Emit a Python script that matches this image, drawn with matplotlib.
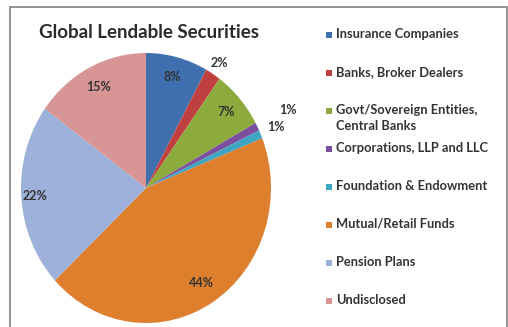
import numpy as np
import matplotlib.pyplot as plt
from matplotlib.patches import Rectangle

plt.rcParams['font.family'] = ['Lato', 'DejaVu Sans']

# data
categories = ["Insurance Companies", "Banks, Broker Dealers",
              "Govt/Sovereign Entities,\nCentral Banks", "Corporations, LLP and LLC",
              "Foundation & Endowment", "Mutual/Retail Funds", "Pension Plans", "Undisclosed"]
shares = [8, 2, 7, 1, 1, 44, 22, 15]
colors = ["#3F6FAF", "#C0403F", "#8DAA3C", "#7B4F9E", "#3FA5C0", "#DE7F2E", "#9DB1DA", "#D89595"]
# how far out each percent label sits (fraction of radius)
label_r = [0.85, 1.1, 0.85, 1.27, 1.13, 0.83, 0.89, 0.84]

W, H = 508, 327
fig = plt.figure(figsize=(W / 100, H / 100), dpi=100)

# grey frame around the chart
fig.patches.append(Rectangle((10 / W, -0.05), 497 / W, 1.05 - 7 / H, transform=fig.transFigure,
                             fill=False, edgecolor="#8a8a8a", linewidth=1.3))

# pie: centre (146,188) px, radii 125 x 135 px
cx, cy, rx, ry = 146, 188, 125, 135
ax = fig.add_axes([(cx - rx) / W, (H - cy - ry) / H, 2 * rx / W, 2 * ry / H])
wedges, _ = ax.pie(shares, colors=colors, startangle=90, counterclock=False,
                   wedgeprops=dict(linewidth=0))
ax.set_aspect('auto')
ax.set_xlim(-1, 1)
ax.set_ylim(-1, 1)

for w, v, r in zip(wedges, shares, label_r):
    mid = np.deg2rad((w.theta1 + w.theta2) / 2)
    ax.text(r * np.cos(mid), r * np.sin(mid), f"{v}%", ha='center', va='center',
            fontsize=9, fontweight='bold', color="#333333")

fig.text(149 / W, 1 - 32 / H, "Global Lendable Securities", ha='center', va='center',
         fontsize=13.5, fontweight='bold', color="#2b2b2b")

# legend
for i, (lab, c) in enumerate(zip(categories, colors)):
    y = 35 + 38 * i
    fig.patches.append(Rectangle((326 / W, 1 - (y + 3) / H), 6 / W, 6 / H,
                                 transform=fig.transFigure, facecolor=c, edgecolor='none'))
    fig.text(336 / W, 1 - (y - 7) / H, lab, ha='left', va='top', fontsize=9.3,
             fontweight='bold', color="#333333", linespacing=1.45)

fig.savefig("out.png", dpi=100)
